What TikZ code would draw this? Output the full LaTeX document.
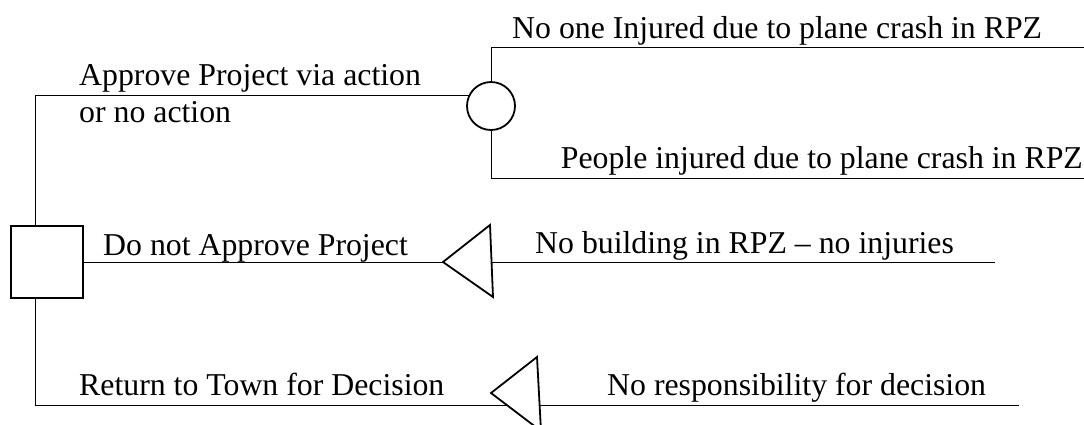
\documentclass[tikz,border=0pt]{standalone}
\usepackage{fontspec}
\setmainfont{Liberation Serif}
\pgfdeclarelayer{bg}
\pgfsetlayers{bg,main}
\begin{document}
\begin{tikzpicture}[x=1pt,y=-1pt,line width=1.8pt,
  lbl/.style={anchor=base west,inner sep=0pt,font=\fontsize{31.8}{36}\selectfont},
  lble/.style={lbl,anchor=base east},
  decision/.style={draw,fill=white,minimum size=72pt,inner sep=0pt},
  chance/.style={draw,fill=white,circle,minimum size=48pt,inner sep=0pt},
  terminal/.style={draw,fill=white,line join=miter}]
\useasboundingbox (0,0) rectangle (1084,424);
\clip (0,0) rectangle (1084,424);
% nodes
\node[decision] (D) at (47,262) {};
\node[chance] (C) at (491,106) {};
\coordinate (a) at (35,95);
\coordinate (b) at (35,405);
\coordinate (t1tip) at (443,262);
\coordinate (t1top) at (490,225);
\coordinate (t1bot) at (493,297);
\coordinate (t2tip) at (491,393);
\coordinate (t2top) at (537,357);
\coordinate (t2bot) at (541,431);
\coordinate (e1) at (1090,47);
\coordinate (e2) at (1090,178);
\coordinate (e3) at (995,262);
\coordinate (e4) at (1019,405);
\draw[terminal] (t1tip) -- (t1top) -- (t1bot) -- cycle;
\draw[terminal] (t2tip) -- (t2top) -- (t2bot) -- cycle;
% connectors
\begin{pgfonlayer}{bg}
\draw (a) -- (b);
\draw (a) -- (a -| C.center);
\draw (C.north) |- (e1);
\draw (C.south) |- (e2);
\draw (D.east) -- (t1tip);
\draw (t1tip) -- (e3);
\draw (b) -- (e4);
\end{pgfonlayer}
% labels
\node[lbl] (l1) at (512,38) {No one Injured due to plane crash in RPZ};
\node[lbl] (l2) at (79,85) {Approve Project via action};
\node[lbl] (l3) at (79,122) {or no action};
\node[lble] (l4) at (1083,168) {People injured due to plane crash in RPZ};
\node[lbl] (l5) at (103,255) {Do not Approve Project};
\node[lbl] (l6) at (535,253) {No building in RPZ – no injuries};
\node[lbl] (l7) at (79,395) {Return to Town for Decision};
\node[lbl] (l8) at (607,395) {No responsibility for decision};
\end{tikzpicture}
\end{document}
